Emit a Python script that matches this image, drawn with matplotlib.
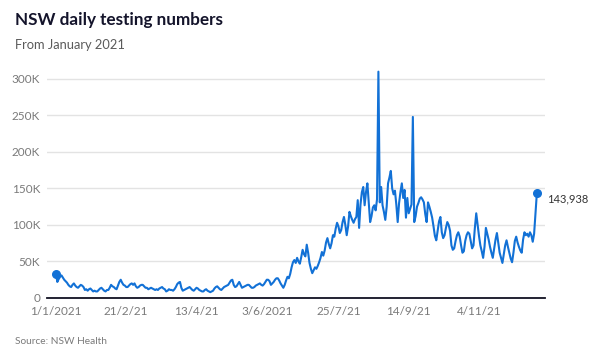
import matplotlib
matplotlib.use("Agg")
import matplotlib.pyplot as plt
import pandas as pd
import numpy as np

# Daily NSW tests (thousands), 1 Jan 2021 onwards
tests_k = [
    33, 22, 26, 29, 31, 28, 25,
    23, 21, 18, 16, 15, 18, 20,
    17, 15, 14, 16, 18, 17, 15,
    11, 12, 10, 12, 13, 11, 9,
    10, 9, 9, 11, 13, 14, 12,
    10, 9, 11, 11, 14, 18, 16,
    15, 13, 12, 17, 22, 25, 21,
    18, 17, 15, 15, 17, 19, 20,
    18, 20, 16, 14, 15, 17, 18,
    18, 16, 14, 14, 12, 13, 14,
    13, 12, 11, 12, 11, 13, 14,
    15, 13, 12, 9, 10, 12, 11,
    11, 10, 12, 15, 19, 21, 22,
    14, 10, 11, 12, 13, 14, 15,
    13, 11, 10, 12, 14, 13, 11,
    10, 9, 9, 11, 12, 10, 9,
    8, 9, 10, 13, 15, 16, 14,
    12, 11, 13, 15, 16, 17, 18,
    21, 24, 25, 18, 15, 16, 19,
    22, 18, 14, 15, 16, 17, 18,
    18, 16, 14, 14, 15, 17, 18,
    19, 20, 18, 17, 19, 22, 25,
    25, 23, 18, 20, 22, 25, 27,
    27, 24, 20, 17, 14, 18, 24,
    29, 27, 33, 42, 49, 52, 48,
    55, 50, 47, 56, 66, 60, 57,
    73, 62, 48, 40, 34, 38, 42,
    40, 44, 49, 55, 63, 58, 65,
    76, 82, 74, 68, 75, 86, 84,
    95, 103, 98, 89, 93, 104, 111,
    100, 86, 98, 118, 112, 107, 103,
    108, 111, 134, 96, 128, 145, 152,
    127, 145, 157, 130, 104, 112, 124,
    127, 120, 135, 310, 131, 152, 127,
    118, 107, 125, 157, 165, 174, 150,
    142, 147, 128, 104, 130, 145, 157,
    137, 148, 110, 137, 116, 122, 128,
    248, 104, 112, 125, 130, 136, 138,
    135, 131, 115, 104, 131, 125, 118,
    110, 98, 85, 79, 92, 105, 111,
    90, 82, 86, 96, 104, 100, 92,
    72, 66, 68, 78, 86, 90, 84,
    72, 62, 64, 78, 86, 90, 88,
    78, 68, 72, 96, 116, 100, 85,
    72, 64, 55, 70, 96, 88, 80,
    70, 62, 55, 68, 80, 89, 75,
    62, 55, 48, 60, 72, 79, 70,
    62, 54, 49, 62, 78, 84, 76,
    70, 65, 62, 80, 90, 86, 88,
    84, 90, 86, 77, 88, 115, 143.938,
]
start_date = "2021-01-01"
xtick_dates = ["2021-01-01", "2021-02-21", "2021-04-13", "2021-06-03",
               "2021-07-25", "2021-09-14", "2021-11-04"]
xtick_labels = ["1/1/2021", "21/2/21", "13/4/21", "3/6/2021",
                "25/7/21", "14/9/21", "4/11/21"]
yticks = [0, 50000, 100000, 150000, 200000, 250000, 300000]
ytick_labels = ["0", "50K", "100K", "150K", "200K", "250K", "300K"]
title = "NSW daily testing numbers"
subtitle = "From January 2021"
source = "Source: NSW Health"

values = np.array(tests_k) * 1000
dates = pd.date_range(start_date, periods=len(values), freq="D")

FONT = "Lato"
plt.rcParams["font.family"] = [FONT, "DejaVu Sans"]

W, H = 601, 354
fig = plt.figure(figsize=(W / 100, H / 100), dpi=100)
ax = fig.add_axes([47 / W, 1 - 298 / H, (545 - 47) / W, (298 - 68) / H])

line_color = "#1271d6"
ax.plot(dates, values, color=line_color, lw=1.5, solid_joinstyle="round", zorder=3, clip_on=False)
ax.scatter([dates[0], dates[-1]], [values[0], values[-1]], s=30, color=line_color, zorder=4, clip_on=False)
ax.annotate(f"{int(round(values[-1])):,}", xy=(dates[-1], values[-1]), xytext=(7, -4),
            textcoords="offset points", fontsize=8, color="#333333", va="center", ha="left")

x0 = pd.Timestamp(start_date)
ax.set_xlim(x0 - pd.Timedelta(days=6.5), x0 + pd.Timedelta(days=354.9))
ax.set_ylim(0, 315000)

ax.set_yticks(yticks)
ax.set_yticklabels(ytick_labels)
ax.set_xticks(pd.to_datetime(xtick_dates))
ax.set_xticklabels(xtick_labels)
ax.tick_params(axis="both", length=0, labelsize=8.5, colors="#7a7a7a")
ax.tick_params(axis="y", pad=5)
ax.tick_params(axis="x", pad=6)

ax.grid(axis="y", color="#e3e3e3", lw=1)
ax.set_axisbelow(True)
for s in ["top", "right", "left"]:
    ax.spines[s].set_visible(False)
ax.spines["bottom"].set_color("#111122")
ax.spines["bottom"].set_linewidth(1.3)
ax.spines["bottom"].set_zorder(5)

fig.text(15 / W, 1 - 20 / H, title, fontsize=12.3, fontweight="bold", color="#14142b", va="center", ha="left")
fig.text(15 / W, 1 - 45 / H, subtitle, fontsize=9.3, color="#5a5a5a", va="center", ha="left")
fig.text(15 / W, 1 - 341 / H, source, fontsize=7.3, color="#7a7a7a", va="center", ha="left")

fig.savefig("out.png", dpi=100)
